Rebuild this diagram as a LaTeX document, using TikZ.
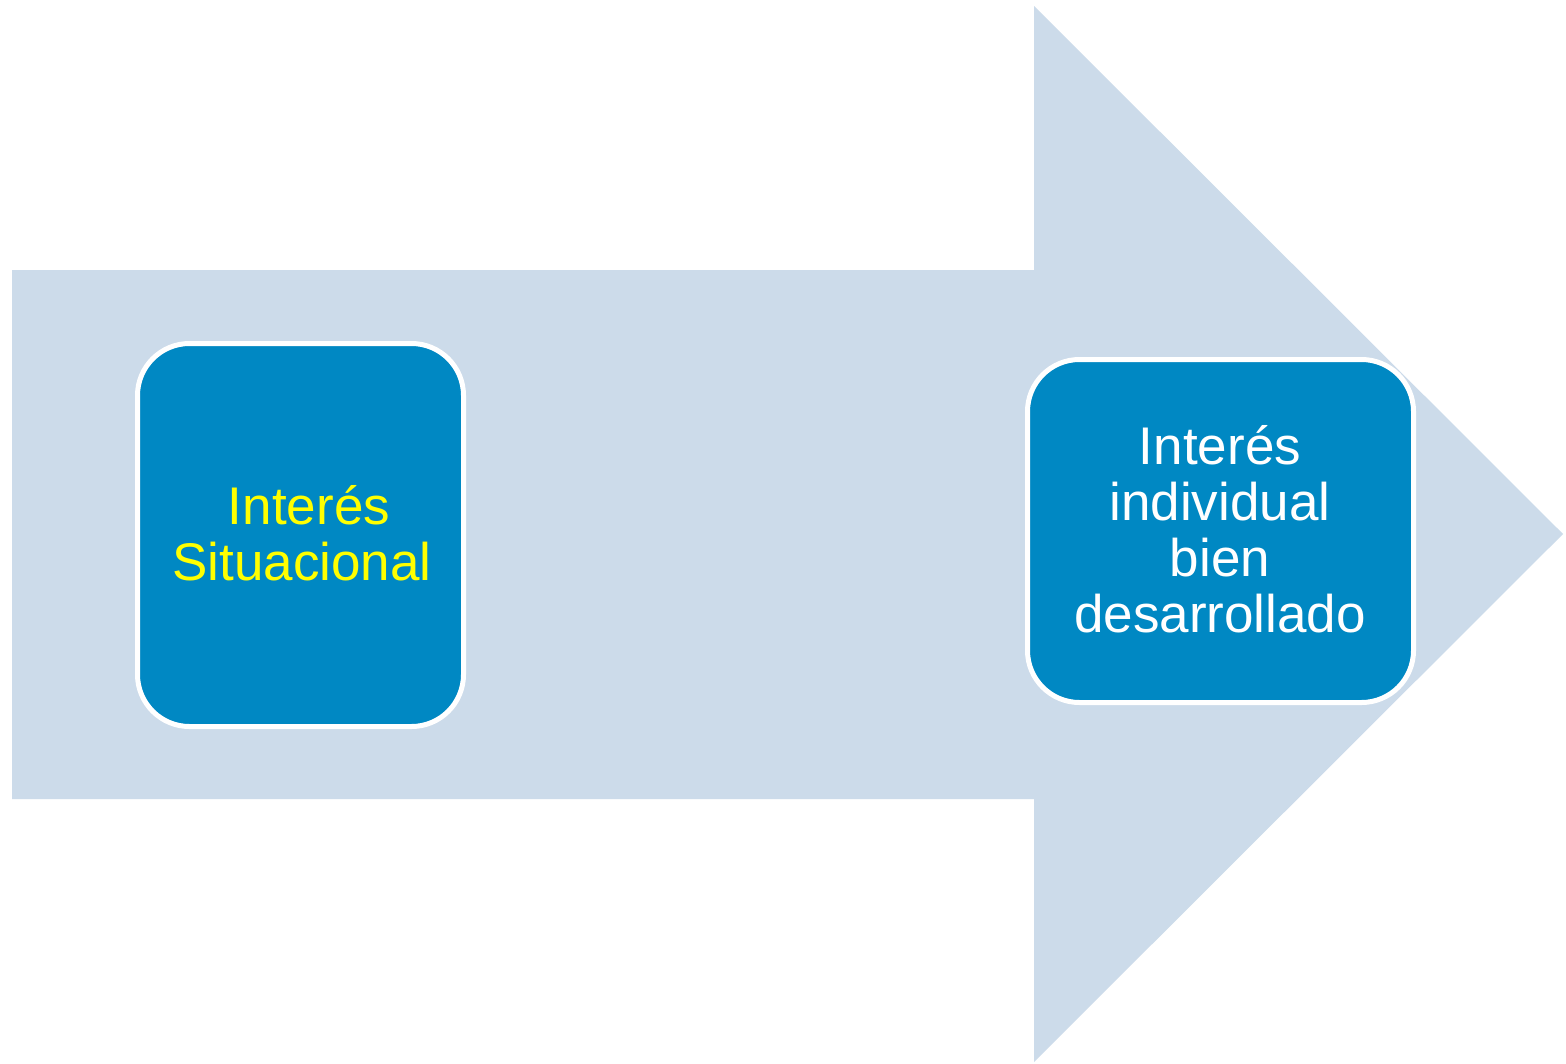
\documentclass[tikz,border=0pt]{standalone}
\usepackage{fontspec}
\setmainfont{Liberation Sans}
\definecolor{arrowfill}{HTML}{CCDBEA}
\definecolor{boxblue}{HTML}{0088C3}
\definecolor{txtyellow}{HTML}{FFFF00}
\begin{document}
\begin{tikzpicture}[x=1pt,y=-1pt,
  stagebox/.style={draw=white, line width=5pt, fill=boxblue, rounded corners=52pt},
  stagetext/.style={align=center, font=\fontsize{53}{56}\selectfont, inner sep=0pt}]
\useasboundingbox[fill=white] (0,0) rectangle (1566,1063);
\fill[arrowfill] (12,270) -- (1034,270) -- (1034,6) -- (1563,534) -- (1034,1062) -- (1034,799) -- (12,799) -- cycle;
\draw[stagebox] (137.5,343.5) rectangle (463.5,726.5);
\draw[stagebox] (1027.5,359.5) rectangle (1413.5,702.5);
\node[stagetext, text=txtyellow] (left) at (302,533) {\hspace*{14pt}Interés\\Situacional};
\node[stagetext, text=white] (right) at (1220,529) {Interés\\individual\\bien\\desarrollado};
\end{tikzpicture}
\end{document}
